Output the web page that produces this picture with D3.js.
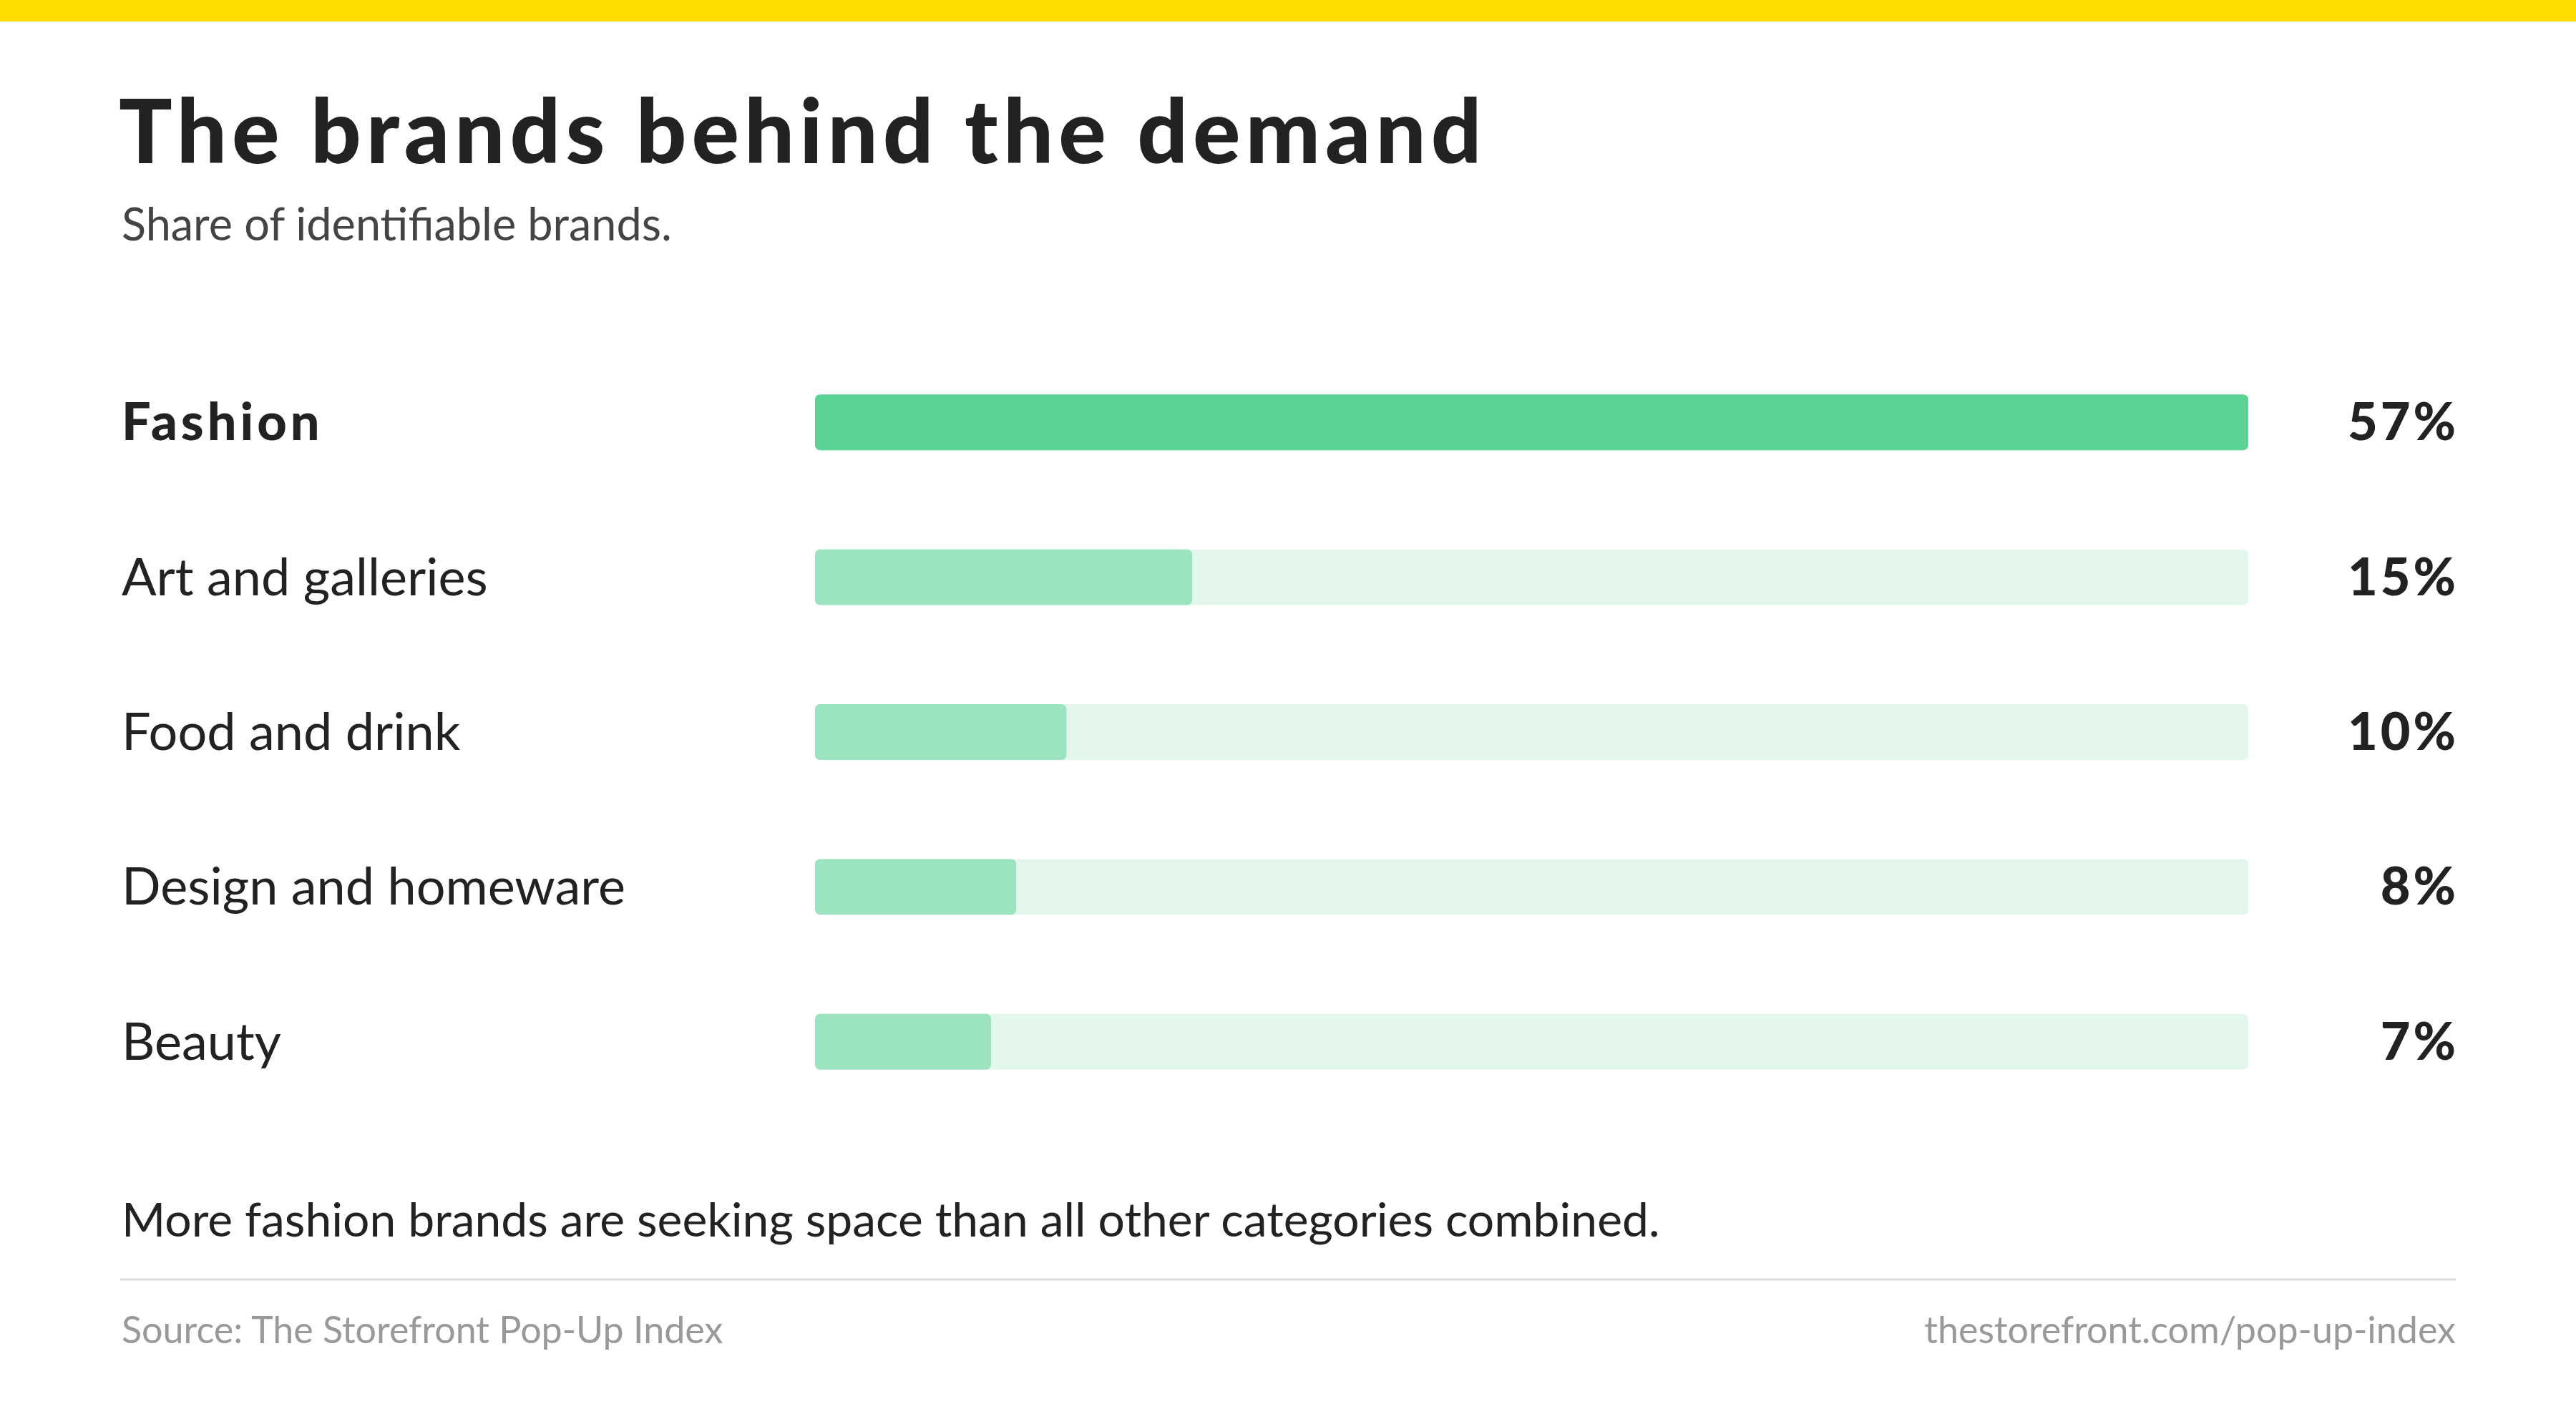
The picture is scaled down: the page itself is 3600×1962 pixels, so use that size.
<!DOCTYPE html>
<html>
<head>
<meta charset="utf-8">
<script src="https://cdn.jsdelivr.net/npm/d3@7"></script>
<style>
  html, body { margin: 0; padding: 0; background: #fff; }
  svg { display: block; }
  text { font-family: Lato, "Noto Sans", sans-serif; }
</style>
</head>
<body>
<div id="chart"></div>
<script>
var categories = ['Fashion', 'Art and galleries', 'Food and drink', 'Design and homeware', 'Beauty'];
var shares = [57, 15, 10, 8, 7];
var valueLabels = ['57%', '15%', '10%', '8%', '7%'];

var title = 'The brands behind the demand';
var subtitle = 'Share of identifiable brands.';
var note = 'More fashion brands are seeking space than all other categories combined.';
var source = 'Source: The Storefront Pop-Up Index';
var link = 'thestorefront.com/pop-up-index';

function chart(id) {

  var width = 3600;
  var height = 1962;
  var left = 170;
  var right = 3432;

  var data = categories.map(function (c, i) {
    return { name: c, value: shares[i], label: valueLabels[i], top: i === 0 };
  });

  var svg = d3.select('#' + id)
    .append('svg')
      .attr('width', width)
      .attr('height', height);

  svg.append('rect')
      .attr('width', width)
      .attr('height', 30)
      .attr('fill', '#ffdd00');

  svg.append('text')
      .attr('x', left - 4)
      .attr('y', 228)
      .attr('font-size', 124)
      .attr('font-weight', 900)
      .attr('letter-spacing', 7)
      .attr('fill', '#222')
      .text(title);

  svg.append('text')
      .attr('x', left)
      .attr('y', 336)
      .attr('font-size', 63)
      .attr('fill', '#444')
      .text(subtitle);

  var x = d3.scaleLinear()
      .domain([0, d3.max(shares)])
      .range([1139, 3142]);

  var y = d3.scaleBand()
      .domain(categories)
      .range([482, 1564])
      .paddingInner(0.64)
      .paddingOuter(0.32);

  var rows = svg.append('g')
    .selectAll('g')
      .data(data)
      .enter()
    .append('g');

  rows.append('rect')
      .attr('x', x(0))
      .attr('y', function (d) { return y(d.name); })
      .attr('width', x.range()[1] - x(0))
      .attr('height', y.bandwidth())
      .attr('rx', 7)
      .attr('fill', '#e3f7ec');

  rows.append('rect')
      .attr('x', x(0))
      .attr('y', function (d) { return y(d.name); })
      .attr('width', function (d) { return x(d.value) - x(0); })
      .attr('height', y.bandwidth())
      .attr('rx', 7)
      .attr('fill', function (d) { return d.top ? '#5cd396' : '#9ce4bf'; });

  rows.append('text')
      .attr('x', left)
      .attr('y', function (d) { return y(d.name) + y.bandwidth() / 2 + 25; })
      .attr('font-size', 72)
      .attr('font-weight', function (d) { return d.top ? 900 : 400; })
      .attr('letter-spacing', function (d) { return d.top ? 5 : 0; })
      .attr('fill', '#222')
      .text(function (d) { return d.name; });

  // letter-spacing leaves a trailing gap, so push the end anchor out by it
  rows.append('text')
      .attr('x', right + 4)
      .attr('y', function (d) { return y(d.name) + y.bandwidth() / 2 + 25; })
      .attr('text-anchor', 'end')
      .attr('font-size', 72)
      .attr('font-weight', 900)
      .attr('letter-spacing', 4)
      .attr('fill', '#222')
      .text(function (d) { return d.label; });

  svg.append('text')
      .attr('x', left)
      .attr('y', 1728)
      .attr('font-size', 66)
      .attr('fill', '#222')
      .text(note);

  svg.append('line')
      .attr('x1', left - 2)
      .attr('x2', right)
      .attr('y1', 1788)
      .attr('y2', 1788)
      .attr('stroke', '#dddddd')
      .attr('stroke-width', 3);

  svg.append('text')
      .attr('x', left)
      .attr('y', 1877)
      .attr('font-size', 52)
      .attr('fill', '#999')
      .text(source);

  svg.append('text')
      .attr('x', right)
      .attr('y', 1877)
      .attr('text-anchor', 'end')
      .attr('font-size', 52)
      .attr('fill', '#999')
      .text(link);
}

chart('chart');
</script>
</body>
</html>
